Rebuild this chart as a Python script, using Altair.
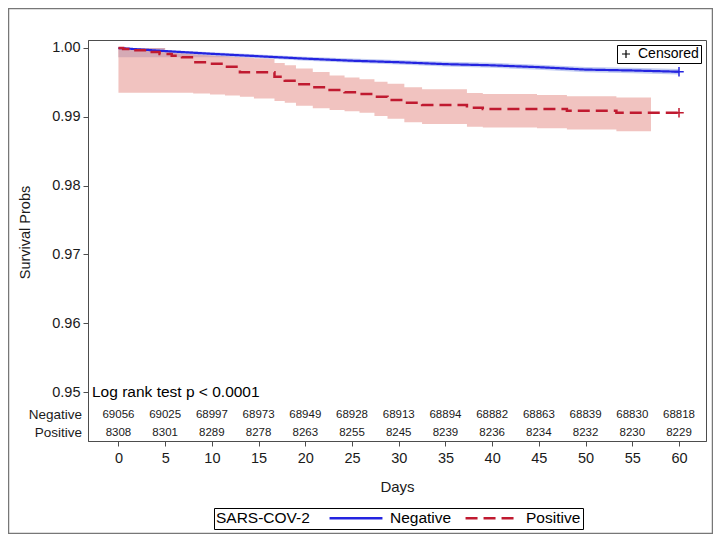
import altair as alt
import pandas as pd

# ---------------- data ----------------
groups = ["Negative", "Positive"]
tick_days = [0, 5, 10, 15, 20, 25, 30, 35, 40, 45, 50, 55, 60]
y_ticks = [0.95, 0.96, 0.97, 0.98, 0.99, 1.00]

# Negative: survival curve and its (thin) pointwise band
neg_days = [0, 5, 10, 15, 20, 25, 30, 35, 40, 45, 50, 55, 60]
neg_surv = [1.0, 0.99955, 0.99915, 0.99880, 0.99845, 0.99815, 0.99793,
            0.99765, 0.99748, 0.99721, 0.99686, 0.99673, 0.99655]
neg_hi = [1.0, 0.99972, 0.99938, 0.99906, 0.99874, 0.99846, 0.99826,
          0.99800, 0.99784, 0.99758, 0.99725, 0.99713, 0.99696]
neg_lo = [1.0, 0.99938, 0.99892, 0.99854, 0.99816, 0.99784, 0.99760,
          0.99730, 0.99712, 0.99684, 0.99647, 0.99633, 0.99614]

# Positive: step curve
pos_days = [0, 0.5, 1.5, 3, 4.4, 5.7, 6.8, 8, 9.8, 11.4, 13, 16.7, 17.8, 19,
            20.8, 22.6, 24.2, 25.8, 27.4, 28.8, 30.6, 32.5, 37.3, 39, 48,
            53.3, 60]
pos_surv = [1.0, 0.99985, 0.99967, 0.99942, 0.99913, 0.99888, 0.99865,
            0.99792, 0.99772, 0.99728, 0.99647, 0.99583, 0.99525, 0.99472,
            0.99429, 0.99390, 0.99356, 0.99331, 0.99292, 0.99244, 0.99205,
            0.99172, 0.99132, 0.99113, 0.99089, 0.99060, 0.99060]

# Positive: confidence band
band_days = [0, 3, 5.7, 8, 9.8, 11.4, 13, 14.5, 16.7, 17.8, 19, 20.8, 22.6,
             24.2, 25.8, 27.4, 28.8, 30.6, 32.5, 37.3, 39, 44.8, 48, 53.3, 57]
band_lo = [0.9935, 0.9935, 0.9935, 0.9934, 0.99325, 0.9931, 0.99292,
           0.99265, 0.9923, 0.99205, 0.9916, 0.99125, 0.991, 0.9908, 0.9906,
           0.9901, 0.9897, 0.9892, 0.98895, 0.98856, 0.98845, 0.98833,
           0.98815, 0.9879, 0.98783]
band_hi = [1.0, 0.9997, 0.9994, 0.99925, 0.9991, 0.999, 0.99875, 0.9985,
           0.9978, 0.9975, 0.997, 0.9965, 0.996, 0.9957, 0.99545, 0.9951,
           0.9948, 0.9943, 0.994, 0.99345, 0.9933, 0.99317, 0.993, 0.9928,
           0.99269]

# darker overlap region near the top at the start
over_days = [0, 5, 8, 11.4, 13]
over_lo = [0.99865, 0.99865, 0.99865, 0.99865, 0.99865]
over_hi = [1.0, 0.99955, 0.99925, 0.9990, 0.99878]

# censored marks at the end
cens_days = [60, 60]
cens_surv = [0.99655, 0.99060]

# number at risk
neg_atrisk = [69056, 69025, 68997, 68973, 68949, 68928, 68913, 68894, 68882,
              68863, 68839, 68830, 68818]
pos_atrisk = [8308, 8301, 8289, 8278, 8263, 8255, 8245, 8239, 8236, 8234,
              8232, 8230, 8229]

# ---------------- styling ----------------
FONT = "Liberation Sans"
BLUE = "#2424e0"
RED = "#c01a30"
AX = "#4d4d4d"
PLUS = "M-1,0H1M0,-1V1"

X_SCALE = alt.Scale(domain=[-3.26, 62.89], nice=False, zero=False)
Y_SCALE = alt.Scale(domain=[0.94288, 1.00116], nice=False, zero=False)

x_axis = alt.Axis(values=tick_days, title="Days", labelFontSize=14.5,
                  titleFontSize=15, titleFontWeight="normal", tickSize=5,
                  labelPadding=5, titleY=45, titleBaseline="middle",
                  labelFlush=False)
y_axis = alt.Axis(values=y_ticks, format=".2f", title="Survival Probs",
                  labelFontSize=14.5, titleFontSize=14.5,
                  titleFontWeight="normal", tickSize=5, labelPadding=3,
                  titleAngle=270, titleX=-63, titleY=192,
                  titleBaseline="middle", titleAlign="center")


def X(field):
    return alt.X(field, type="quantitative", scale=X_SCALE, axis=x_axis)


def Y(field):
    return alt.Y(field, type="quantitative", scale=Y_SCALE, axis=y_axis)


def group_legend():
    return alt.Legend(
        title="SARS-COV-2", orient="none", legendX=126, legendY=468,
        direction="horizontal", titleOrient="left", strokeColor="black",
        padding=2, symbolType="stroke", symbolSize=2800, clipHeight=16,
        symbolStrokeWidth=2.5, labelFontSize=15.5, titleFontSize=15.5,
        titleFontWeight="normal", titlePadding=18, columnPadding=12,
        labelOffset=6, titleColor="black", labelColor="black",
        titleBaseline="middle", titleAnchor="middle",
    )


color_enc = alt.Color("group:N",
                      scale=alt.Scale(domain=groups, range=[BLUE, RED]),
                      legend=group_legend())
dash_enc = alt.StrokeDash("group:N",
                          scale=alt.Scale(domain=groups,
                                          range=[[1, 0], [12, 6]]),
                          legend=group_legend())

# ---------------- tables ----------------
neg_df = pd.DataFrame({"day": neg_days, "surv": neg_surv, "lo": neg_lo,
                       "hi": neg_hi, "group": "Negative"})
pos_df = pd.DataFrame({"day": pos_days, "surv": pos_surv, "group": "Positive"})
band_df = pd.DataFrame({"day": band_days, "lo": band_lo, "hi": band_hi})
over_df = pd.DataFrame({"day": over_days, "lo": over_lo, "hi": over_hi})
cens_df = pd.DataFrame({"day": cens_days, "surv": cens_surv,
                        "group": groups, "cens": "Censored"})
risk_neg_df = pd.DataFrame({"day": tick_days, "n": neg_atrisk})
risk_pos_df = pd.DataFrame({"day": tick_days, "n": pos_atrisk})
label_neg_df = pd.DataFrame({"label": ["Negative"]})
label_pos_df = pd.DataFrame({"label": ["Positive"]})
note_df = pd.DataFrame({"label": ["Log rank test p < 0.0001"]})
frame_df = pd.DataFrame({"k": [0]})

# ---------------- layers ----------------
frame = alt.Chart(frame_df).mark_rect(
    fillOpacity=0, stroke="#777777", strokeWidth=1.5
).encode(x=alt.value(-79.5), x2=alt.value(624.5),
         y=alt.value(-31.5), y2=alt.value(493.5))

band = alt.Chart(band_df).mark_area(
    color="#f1c3c0", interpolate="step-after"
).encode(x=X("day"), y=Y("lo"), y2="hi")

over = alt.Chart(over_df).mark_area(
    color="#d5aab5", interpolate="step-after"
).encode(x=X("day"), y=Y("lo"), y2="hi")

neg_band = alt.Chart(neg_df).mark_area(
    color="#c3cdf2"
).encode(x=X("day"), y=Y("lo"), y2="hi")

neg_line = alt.Chart(neg_df).mark_line(strokeWidth=2.2).encode(
    x=X("day"), y=Y("surv"), color=color_enc, strokeDash=dash_enc)

pos_line = alt.Chart(pos_df).mark_line(
    strokeWidth=2.5, interpolate="step-after"
).encode(x=X("day"), y=Y("surv"), color=color_enc, strokeDash=dash_enc)

cens = alt.Chart(cens_df).mark_point(
    filled=False, size=90, strokeWidth=1.5, opacity=1
).encode(
    x=X("day"), y=Y("surv"),
    stroke=alt.Stroke("group:N",
                      scale=alt.Scale(domain=groups, range=[BLUE, RED]),
                      legend=None),
    shape=alt.Shape("cens:N",
                    scale=alt.Scale(domain=["Censored"], range=[PLUS]),
                    legend=alt.Legend(
                        title=None, orient="top-right", offset=5,
                        padding=2, strokeColor="black", fillColor="white",
                        labelFontSize=14, symbolSize=64,
                        symbolStrokeColor="black", symbolStrokeWidth=1.2,
                        symbolFillColor="transparent", labelOffset=5,
                        labelColor="black")),
)

risk_neg = alt.Chart(risk_neg_df).mark_text(
    fontSize=11.5, color="#1a1a1a", baseline="middle"
).encode(x=X("day"), y=alt.value(375), text="n:Q")

risk_pos = alt.Chart(risk_pos_df).mark_text(
    fontSize=11.5, color="#1a1a1a", baseline="middle"
).encode(x=X("day"), y=alt.value(393), text="n:Q")

lab_neg = alt.Chart(label_neg_df).mark_text(
    fontSize=13.5, color="#1a1a1a", align="right", baseline="middle"
).encode(x=alt.value(-6), y=alt.value(375), text="label:N")

lab_pos = alt.Chart(label_pos_df).mark_text(
    fontSize=13.5, color="#1a1a1a", align="right", baseline="middle"
).encode(x=alt.value(-6), y=alt.value(393), text="label:N")

note = alt.Chart(note_df).mark_text(
    fontSize=15.5, color="black", align="left", baseline="middle"
).encode(x=alt.value(4), y=alt.value(352), text="label:N")

chart = alt.layer(
    frame, band, over, neg_band, neg_line, pos_line, cens,
    risk_neg, risk_pos, lab_neg, lab_pos, note
).properties(
    width=618, height=401,
    padding={"left": 80, "top": 32, "right": 7, "bottom": 93},
    autosize=alt.AutoSizeParams(type="none"),
).configure(
    font=FONT
).configure_view(
    stroke=AX, strokeWidth=1
).configure_axis(
    grid=False, domainColor=AX, tickColor=AX, labelColor="#1a1a1a",
    titleColor="#1a1a1a", domainWidth=1, tickWidth=1
)

chart.save("out.html", embed_options={"renderer": "svg", "actions": False})
